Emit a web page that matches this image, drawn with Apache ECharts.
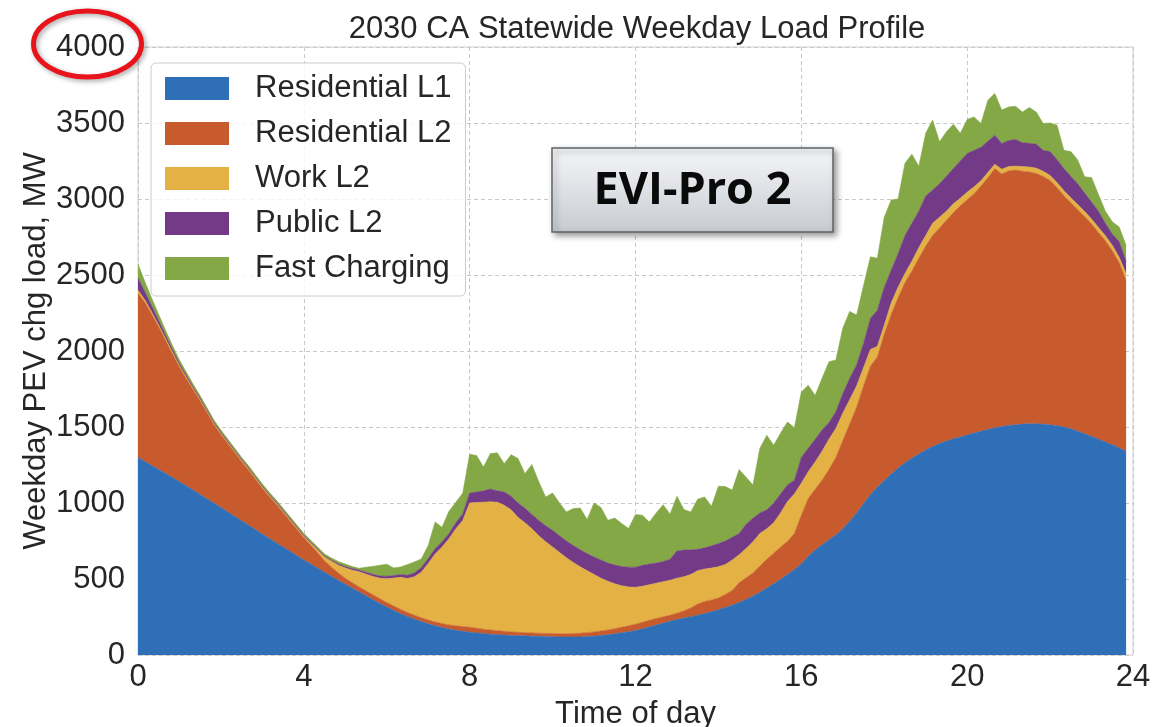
<!DOCTYPE html>
<html><head><meta charset="utf-8">
<script src="https://cdn.jsdelivr.net/npm/echarts@6/dist/echarts.min.js"></script>
<style>html,body{margin:0;padding:0;background:#fff}#c{width:1155px;height:727px}</style>
</head><body><div id="c"></div>
<script>
// ---- data (MW, one value every 10 minutes from 0:00 to 23:50) ----
const seriesNames = ['Residential L1', 'Residential L2', 'Work L2', 'Public L2', 'Fast Charging'];
const stepsPerHour = 6;
const xTickValues = [0, 4, 8, 12, 16, 20, 24];
const yTickValues = [0, 500, 1000, 1500, 2000, 2500, 3000, 3500, 4000];

const residentialL1 = [
1300,1273,1246,1220,1194,1167,1140,1112,1084,1056,
1027,999,970,941,912,883,854,825,795,767,
739,710,682,653,625,598,571,545,518,491,
465,440,414,389,364,339,315,293,272,253,
236,220,205,192,181,171,163,156,150,145,
141,137,134,131,129,127,126,124,123,121,
120,119,118,118,119,121,124,128,133,139,
146,153,161,172,184,197,210,222,233,243,
252,262,273,285,298,313,328,345,365,388,
413,440,468,498,530,563,598,650,690,725,
758,790,830,880,935,995,1055,1105,1148,1190,
1230,1265,1295,1322,1348,1372,1392,1408,1422,1435,
1447,1460,1472,1484,1495,1503,1510,1515,1519,1521,
1521,1518,1514,1508,1500,1488,1472,1455,1438,1420,
1402,1383,1362,1340];

const residentialL2 = [
1080,1046,995,938,876,814,753,706,659,615,
567,516,480,450,420,389,363,332,302,275,
253,227,200,174,146,125,101,74,60,48,
40,36,34,33,32,31,30,29,28,27,
26,25,25,25,26,27,29,31,33,31,
29,28,26,25,23,22,21,21,20,21,
21,21,22,23,24,26,28,30,32,34,
36,39,42,43,44,43,41,40,42,47,
58,73,79,77,77,85,97,130,143,152,
172,190,202,212,218,237,322,380,400,425,
462,510,580,640,695,775,845,855,962,1050,
1120,1185,1230,1288,1342,1388,1418,1452,1488,1520,
1548,1575,1613,1656,1705,1662,1675,1675,1664,1656,
1647,1630,1608,1567,1522,1487,1458,1430,1397,1360,
1323,1277,1218,1125];

const workL2 = [
20,16,14,12,10,9,8,8,7,7,
7,7,7,7,7,7,7,7,7,7,
7,7,7,7,8,12,18,25,38,52,
68,82,100,110,121,135,157,184,211,224,
253,300,372,448,503,567,638,698,817,827,
835,843,845,829,803,756,723,685,642,603,
570,535,500,467,437,408,378,347,320,295,
273,256,242,237,234,232,231,230,230,225,
220,220,213,210,205,197,200,185,192,205,
215,200,200,225,262,260,210,175,180,190,
200,190,180,160,140,120,110,70,60,75,
70,60,65,70,70,80,70,60,58,50,
50,45,35,35,28,30,28,26,30,33,
35,34,33,33,33,33,33,33,33,33,
33,35,37,43];

const publicL2 = [
80,55,40,30,23,18,15,13,11,10,
9,8,8,8,7,7,7,7,7,7,
7,7,7,7,7,7,7,7,8,9,
10,11,12,13,14,15,16,17,18,20,
25,30,33,35,35,35,40,45,65,69,
75,84,75,87,90,95,95,95,100,105,
109,110,110,112,112,112,115,120,120,124,
127,130,133,138,136,133,133,138,180,175,
162,140,140,146,153,155,150,140,160,155,
135,125,130,125,110,90,170,155,150,140,
110,110,130,140,140,160,205,238,250,216,
220,250,250,240,260,220,220,230,232,245,
254,240,220,205,192,170,172,176,157,156,
159,138,157,152,145,142,137,122,112,107,
82,75,103,82];

const fastCharging = [
90,65,50,40,32,27,24,21,19,17,
15,15,15,14,14,14,14,14,14,14,
14,14,14,14,14,13,13,14,14,15,
15,13,10,33,52,70,79,50,50,71,
72,57,85,175,95,145,135,135,255,240,
157,233,250,186,273,292,228,328,255,189,
246,215,191,243,275,224,355,345,281,309,
283,254,346,329,277,330,374,296,359,267,
249,330,335,260,378,358,310,420,310,218,
425,490,380,400,413,345,430,414,288,340,
400,340,430,440,327,380,405,342,460,462,
360,475,455,295,412,460,276,292,292,182,
224,220,157,270,274,220,220,218,202,236,
210,177,188,226,120,162,156,106,161,110,
80,80,96,105];

// ---- styling ----
const colors = ['#2E6FB7', '#C85B2D', '#E3B144', '#733A87', '#84A846'];
const FONT = '"Liberation Sans", Arial, sans-serif';
const TXT = '#262626';

const layers = [residentialL1, residentialL2, workL2, publicL2, fastCharging];
// time-of-day categories (hours), one per 10-minute step, plus the 24 h end of the axis
const lastHour = xTickValues[xTickValues.length - 1];
const timeCategories = [];
for (let i = 0; i <= lastHour * stepsPerHour; i++) timeCategories.push(String(i / stepsPerHour));
const tickEvery = (xTickValues[1] - xTickValues[0]) * stepsPerHour;
const isTick = (idx) => idx % tickEvery === 0;

const chart = echarts.init(document.getElementById('c'), null, {renderer: 'canvas'});

const series = layers.map((vals, k) => ({
  name: seriesNames[k],
  type: 'line',
  stack: 'load',
  symbol: 'none',
  showSymbol: false,
  smooth: false,
  lineStyle: {width: 0.6, color: colors[k]},
  itemStyle: {color: colors[k]},
  areaStyle: {color: colors[k], opacity: 1},
  emphasis: {disabled: true},
  data: vals
}));

const option = {
  animation: false,
  backgroundColor: '#ffffff',
  color: colors,
  grid: {left: 138, right: 22, top: 47, bottom: 72, show: true, containLabel: false,
         outerBoundsMode: 'none',
         borderColor: '#d0d0d0', borderWidth: 1, backgroundColor: 'transparent'},
  xAxis: {
    type: 'category', data: timeCategories, boundaryGap: false,
    axisLine: {show: false}, axisTick: {show: false},
    axisLabel: {fontSize: 31, color: TXT, fontFamily: FONT, margin: 7, interval: isTick,
                formatter: (v) => String(Math.round(Number(v)))},
    splitLine: {show: true, interval: isTick, lineStyle: {color: '#c8c8c8', type: [4, 3], width: 1}},
    name: 'Time of day', nameLocation: 'middle', nameGap: 44, nameMoveOverlap: false,
    nameTextStyle: {fontSize: 31, color: TXT, fontFamily: FONT}
  },
  yAxis: {
    type: 'value', min: yTickValues[0], max: yTickValues[yTickValues.length - 1],
    interval: yTickValues[1] - yTickValues[0],
    axisLine: {show: false}, axisTick: {show: false},
    axisLabel: {fontSize: 31, color: TXT, fontFamily: FONT, margin: 13, formatter: (v) => String(v)},
    splitLine: {show: true, lineStyle: {color: '#c8c8c8', type: [4, 3], width: 1}},
    name: 'Weekday PEV chg load, MW', nameLocation: 'middle', nameGap: 86, nameRotate: 90,
    nameMoveOverlap: false,
    nameTextStyle: {fontSize: 31, color: TXT, fontFamily: FONT}
  },
  legend: {
    data: seriesNames, orient: 'vertical', left: 151, top: 63,
    icon: 'rect', itemWidth: 64, itemHeight: 23, itemGap: 14,
    padding: [10, 14, 12, 14],
    backgroundColor: 'rgba(255,255,255,0.8)', borderColor: '#cccccc', borderWidth: 1, borderRadius: 5,
    textStyle: {fontSize: 31, color: TXT, fontFamily: FONT, padding: [0, 0, 0, 21]},
    selectedMode: false
  },
  graphic: [
    {type: 'text', x: 637, y: 29, z: 100,
     style: {text: '2030 CA Statewide Weekday Load Profile', font: '31px ' + FONT, fill: TXT,
             textAlign: 'center', textVerticalAlign: 'middle', align: 'center', verticalAlign: 'middle'}},
    {type: 'ellipse', z: 100, shape: {cx: 87.5, cy: 44, rx: 54, ry: 33},
     style: {fill: 'none', stroke: '#E8141B', lineWidth: 5,
             shadowBlur: 5, shadowOffsetX: 2, shadowOffsetY: 2, shadowColor: 'rgba(0,0,0,0.35)'}},
    {type: 'rect', z: 100, shape: {x: 552, y: 148, width: 281, height: 84},
     style: {fill: new echarts.graphic.LinearGradient(0, 0, 0, 1, [
               {offset: 0, color: '#f5f6f8'}, {offset: 1, color: '#c7cbd1'}]),
             stroke: '#5f646a', lineWidth: 1.5,
             shadowBlur: 6, shadowOffsetX: 3, shadowOffsetY: 3, shadowColor: 'rgba(0,0,0,0.4)'}},
    {type: 'text', x: 692.5, y: 191, z: 101,
     style: {text: 'EVI-Pro 2', font: 'bold 45px "Open Sans", "Noto Sans", sans-serif', fill: '#0a0a0a',
             textAlign: 'center', textVerticalAlign: 'middle', align: 'center', verticalAlign: 'middle'}}
  ],
  series: series
};
chart.setOption(option);
</script></body></html>
